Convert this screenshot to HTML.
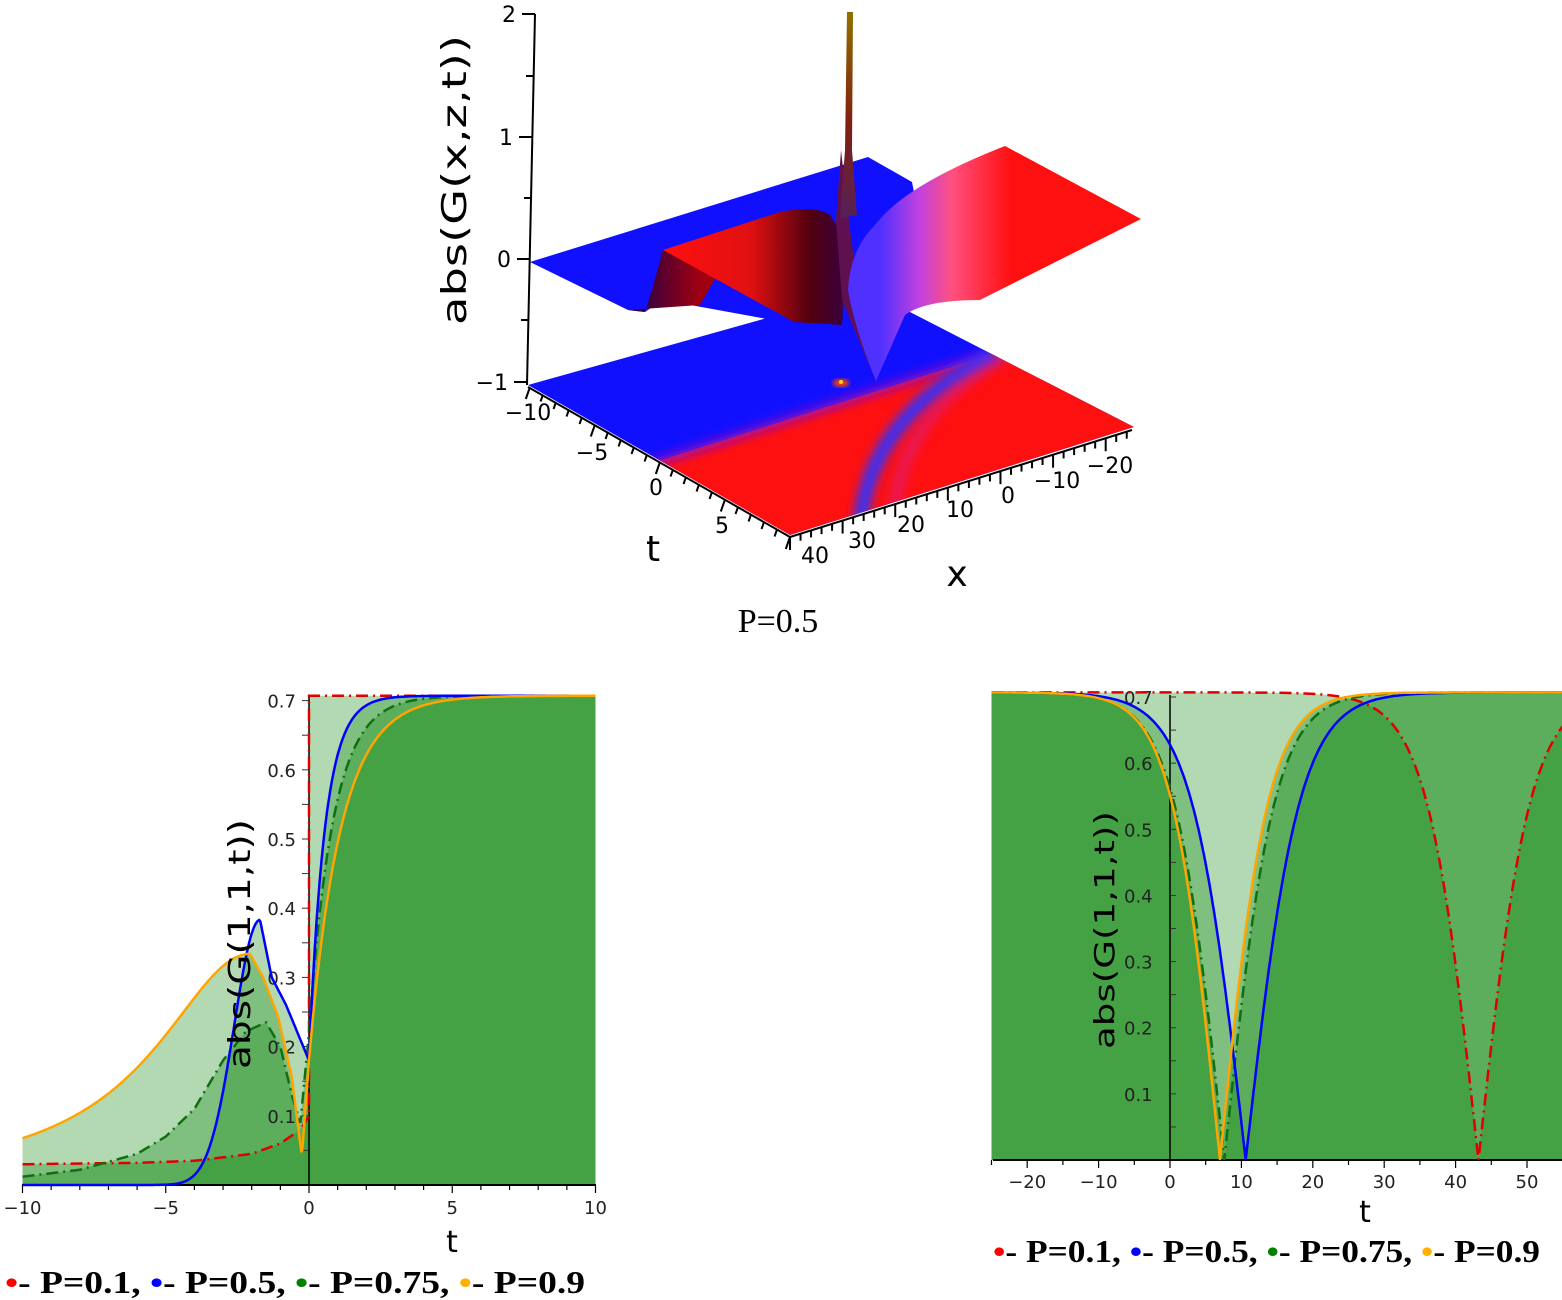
<!DOCTYPE html>
<html><head><meta charset="utf-8"><style>
html,body{margin:0;padding:0;background:#fff;}
svg{display:block;}
</style></head><body>
<svg id="s" width="1562" height="1300" viewBox="0 0 1562 1300" xmlns="http://www.w3.org/2000/svg">
<defs>
<linearGradient id="frontRed" x1="663" y1="0" x2="860" y2="0" gradientUnits="userSpaceOnUse">
<stop offset="0" stop-color="#ff1010"/><stop offset="0.45" stop-color="#e01010"/><stop offset="0.75" stop-color="#500010"/><stop offset="1" stop-color="#300050"/></linearGradient>
<linearGradient id="pink" x1="880" y1="0" x2="1010" y2="0" gradientUnits="userSpaceOnUse">
<stop offset="0" stop-color="#5030ff"/><stop offset="0.3" stop-color="#c040e0"/><stop offset="0.55" stop-color="#ff5080"/><stop offset="1" stop-color="#ff1010"/></linearGradient>
<linearGradient id="spk" x1="0" y1="12" x2="0" y2="230" gradientUnits="userSpaceOnUse">
<stop offset="0" stop-color="#907000"/><stop offset="0.5" stop-color="#802010"/><stop offset="1" stop-color="#502060"/></linearGradient>
<linearGradient id="wall" x1="640" y1="0" x2="700" y2="0" gradientUnits="userSpaceOnUse">
<stop offset="0" stop-color="#300040"/><stop offset="1" stop-color="#a00010"/></linearGradient>
<filter id="bl" x="-50%" y="-50%" width="200%" height="200%"><feGaussianBlur stdDeviation="5"/></filter>
<filter id="bl2"><feGaussianBlur stdDeviation="2"/></filter>
<clipPath id="baseClip"><polygon points="528,385 867,290 1134,427 790,535"/></clipPath>
</defs>

<!-- 3D plot -->
<polygon points="528,385 867,290 1134,427 790,535" fill="#1010ff"/>
<g clip-path="url(#baseClip)">
<polygon points="655,462 998,352 1134,427 790,535" fill="#ff1010"/>
<line x1="650" y1="464" x2="1000" y2="351" stroke="#9010c0" stroke-width="8" filter="url(#bl)"/>
<path d="M995,354 Q860,420 860,540" stroke="#3030ff" stroke-width="14" fill="none" filter="url(#bl)"/>
<path d="M1005,356 Q890,420 893,540" stroke="#d020a0" stroke-width="12" fill="none" filter="url(#bl)" opacity="0.5"/>
</g>
<ellipse cx="841" cy="383" rx="8" ry="4" fill="#ff4000" filter="url(#bl2)"/>
<circle cx="841" cy="382" r="2" fill="#ffe000"/>

<polygon points="530,262 868,157 912,182 935,300 800,325 663,300 645,312 628,310" fill="#1010ff"/>
<polygon points="628,310 645,312 652,290 663,250 720,270 700,305" fill="url(#wall)"/>
<path d="M663,250 L780,212 Q815,205 830,215 L838,228 Q845,290 842,325 L794,322 Z" fill="url(#frontRed)"/>
<path d="M841,150 L836,220 L842,300 L876,381 L860,300 L850,230 Z" fill="#601050"/>
<path d="M876,381 Q855,330 848,290 Q850,250 875,225 Q905,185 1005,146 L1141,219 L980,300 Q925,300 905,315 Z" fill="url(#pink)"/>
<polygon points="847,12 853,12 852,150 857,215 840,218 845,150" fill="url(#spk)"/>

<!-- z axis -->
<g stroke="#000" stroke-width="2" fill="none">
<line x1="535" y1="14" x2="527" y2="385"/>
<line x1="535" y1="14" x2="522" y2="14"/>
<line x1="532" y1="137" x2="519" y2="137"/>
<line x1="530" y1="259" x2="517" y2="259"/>
<line x1="527" y1="382" x2="514" y2="382"/>
<line x1="533" y1="76" x2="526" y2="76"/>
<line x1="531" y1="198" x2="524" y2="198"/>
<line x1="528" y1="320" x2="521" y2="320"/>
<line x1="528" y1="387" x2="790" y2="537"/>
<line x1="790" y1="537" x2="1132" y2="430"/>
</g>
<g id="ticks3d" stroke="#000" stroke-width="2"></g>
<g font-family="DejaVu Sans, Liberation Sans, sans-serif" font-size="22" fill="#000">
<text x="516" y="22" text-anchor="end">2</text>
<text x="513" y="145" text-anchor="end">1</text>
<text x="511" y="267" text-anchor="end">0</text>
<text x="508" y="390" text-anchor="end">−1</text>
<text x="528" y="420" text-anchor="middle">−10</text>
<text x="592" y="460" text-anchor="middle">−5</text>
<text x="656" y="495" text-anchor="middle">0</text>
<text x="722" y="533" text-anchor="middle">5</text>
<text x="815" y="563" text-anchor="middle">40</text>
<text x="862" y="548" text-anchor="middle">30</text>
<text x="911" y="532" text-anchor="middle">20</text>
<text x="960" y="517" text-anchor="middle">10</text>
<text x="1008" y="503" text-anchor="middle">0</text>
<text x="1057" y="488" text-anchor="middle">−10</text>
<text x="1110" y="473" text-anchor="middle">−20</text>
</g>
<g font-family="DejaVu Sans, Liberation Sans, sans-serif" font-size="36" fill="#000">
<text x="653" y="561" text-anchor="middle">t</text>
<text x="957" y="586" text-anchor="middle">x</text>
<text transform="translate(466,180) rotate(-90)" text-anchor="middle" font-size="34" textLength="290" lengthAdjust="spacingAndGlyphs">abs(G(x,z,t))</text>
</g>
<text x="778" y="632" text-anchor="middle" font-family="Liberation Serif, serif" font-size="34">P=0.5</text>

<!-- 2D plots -->
<g id="plots"></g>

<g font-family="Liberation Serif, serif" font-weight="bold" font-size="32">
<text x="5" y="1293" textLength="580" lengthAdjust="spacingAndGlyphs"><tspan fill="#ff0000">•</tspan><tspan fill="#000">- P=0.1, </tspan><tspan fill="#0000ff">•</tspan><tspan fill="#000">- P=0.5, </tspan><tspan fill="#008000">•</tspan><tspan fill="#000">- P=0.75, </tspan><tspan fill="#ffb000">•</tspan><tspan fill="#000">- P=0.9</tspan></text>
<text x="993" y="1262" textLength="547" lengthAdjust="spacingAndGlyphs"><tspan fill="#ff0000">•</tspan><tspan fill="#000">- P=0.1, </tspan><tspan fill="#0000ff">•</tspan><tspan fill="#000">- P=0.5, </tspan><tspan fill="#008000">•</tspan><tspan fill="#000">- P=0.75, </tspan><tspan fill="#ffb000">•</tspan><tspan fill="#000">- P=0.9</tspan></text>
</g>
</svg>
<script>
(function(){
var NS="http://www.w3.org/2000/svg";
function el(tag,attrs,parent,txt){var e=document.createElementNS(NS,tag);for(var k in attrs)e.setAttribute(k,attrs[k]);if(txt!==undefined)e.textContent=txt;parent.appendChild(e);return e;}
var tg=document.getElementById('ticks3d');
var A=[530,387],B=[790,537],C=[1132,430];
for(var t=-10;t<=10;t++){var f=(t+10)/20;var x=A[0]+(B[0]-A[0])*f,y=A[1]+(B[1]-A[1])*f;var L=(t%5==0)?12:7;el('line',{x1:x,y1:y,x2:x-L*0.35,y2:y+L},tg);}
for(var xv=40;xv>=-24;xv-=2){var f=(40-xv)/65;var x=B[0]+(C[0]-B[0])*f,y=B[1]+(C[1]-B[1])*f;var L=(xv%10==0)?13:7;el('line',{x1:x,y1:y,x2:x,y2:y+L},tg);}
var pg=document.getElementById('plots');
function interp(pts,t){if(t<=pts[0][0])return pts[0][1];for(var i=1;i<pts.length;i++){if(t<=pts[i][0]){var a=pts[i-1],b=pts[i];return a[1]+(b[1]-a[1])*(t-a[0])/(b[0]-a[0]);}}return pts[pts.length-1][1];}
var lx=function(t){return 309+t*28.65},ly=function(v){return 1185-v*692};
function orange(t){if(t<=-2.06)return 0.334/(1+Math.pow((t+2.06)/4,2));if(t<=0)return interp([[-2.06,.334],[-1.6,.3],[-1.08,.243],[-0.6,.156],[-0.25,.042],[0,.18]],t);return 0.707-0.527*Math.exp(-t/1.1);}
function blue(t){if(t<=-1.71)return 0.383*Math.exp(-Math.pow(t+1.71,2)/1.6);if(t<=0)return interp([[-1.71,.383],[-1.3,.3],[-0.8,.26],[-0.4,.22],[0,.18]],t);return 0.707-0.527*Math.exp(-t/0.55);}
function green(t){if(t<=0)return interp([[-10,.012],[-8,.022],[-6,.045],[-5,.07],[-4,.11],[-3,.18],[-2.2,.222],[-1.5,.235],[-1,.2],[-0.6,.13],[-0.3,.09],[0,.22]],t);return 0.707-0.487*Math.exp(-t/0.85);}
function red(t){if(t<0)return interp([[-10,.03],[-6,.032],[-4,.035],[-2,.045],[-1,.06],[-0.3,.08],[0,.1]],t);return 0.707;}
function mk(fn,t0,t1,n,X,Y){var d='';for(var i=0;i<=n;i++){var t=t0+(t1-t0)*i/n;d+=(i?'L':'M')+X(t).toFixed(1)+','+Y(fn(t)).toFixed(1);}return d;}
var FC='rgba(20,137,20,0.323)';
[orange,blue,green,red].forEach(function(fn){var d=mk(fn,-10,-0.0001,400,lx,ly);if(fn===red){d+='L'+lx(0)+','+ly(0.707)+'L'+lx(10)+','+ly(0.707);}else d+=mk(fn,0,10,300,lx,ly).replace('M','L');d+='L'+lx(10)+','+ly(0)+'L'+lx(-10)+','+ly(0)+'Z';el('path',{d:d,fill:FC},pg);});
el('line',{x1:22,y1:1185,x2:596,y2:1185,stroke:'#000','stroke-width':2},pg);
el('line',{x1:309,y1:695,x2:309,y2:1185,stroke:'#000','stroke-width':1.5},pg);
for(var t=-10;t<=10;t++){var L=(t%5==0)?8:5;el('line',{x1:lx(t),y1:1185,x2:lx(t),y2:1185+L,stroke:'#000','stroke-width':1.2},pg);}
for(var v=0.05;v<0.71;v+=0.05){el('line',{x1:309,y1:ly(v),x2:302,y2:ly(v),stroke:'#333','stroke-width':1},pg);}
var lg=el('g',{'font-family':'DejaVu Sans, Liberation Sans, sans-serif','font-size':'18',fill:'#222'},pg);
[0.1,0.2,0.3,0.4,0.5,0.6,0.7].forEach(function(v){el('text',{x:296,y:ly(v)+7,'text-anchor':'end'},lg,v.toFixed(1));});
[[-10,'−10'],[-5,'−5'],[0,'0'],[5,'5'],[10,'10']].forEach(function(a){el('text',{x:lx(a[0]),y:1214,'text-anchor':'middle'},lg,a[1]);});
var dd='12,5,2,5';
el('path',{d:mk(red,-10,-0.0001,200,lx,ly)+'L'+lx(0)+','+ly(0.707)+'L'+lx(10)+','+ly(0.707),fill:'none',stroke:'#e00000','stroke-width':2.5,'stroke-dasharray':dd},pg);
el('path',{d:mk(green,-10,10,600,lx,ly),fill:'none',stroke:'#107010','stroke-width':2.5,'stroke-dasharray':dd},pg);
el('path',{d:mk(blue,-10,10,600,lx,ly),fill:'none',stroke:'#0000ff','stroke-width':2.5},pg);
el('path',{d:mk(orange,-10,10,600,lx,ly),fill:'none',stroke:'#ffa500','stroke-width':2.5},pg);
el('text',{x:452,y:1252,'text-anchor':'middle','font-family':'DejaVu Sans, sans-serif','font-size':'30',fill:'#000'},pg,'t');
el('text',{transform:'translate(250,944) rotate(-90)','text-anchor':'middle','font-family':'DejaVu Sans, sans-serif','font-size':'30',fill:'#000',textLength:'250',lengthAdjust:'spacingAndGlyphs'},pg,'abs(G(1,1,t))');
var rx=function(t){return 1170+t*7.14},ry=function(v){return 1160-v*661.4};
function th(c,a){return function(t){return 0.707*Math.abs(Math.tanh((t-c)/a));};}
var rO=th(7,6.7),rG=th(7.6,7),rB=th(10.6,7.5),rR=th(43.2,7.2);
[rO,rG,rB,rR].forEach(function(fn){var d=mk(fn,-25,55,800,rx,ry)+'L'+rx(55)+','+ry(0)+'L'+rx(-25)+','+ry(0)+'Z';el('path',{d:d,fill:FC},pg);});
el('line',{x1:993,y1:1160,x2:1562,y2:1160,stroke:'#000','stroke-width':2},pg);
el('line',{x1:1170,y1:695,x2:1170,y2:1160,stroke:'#000','stroke-width':1.5},pg);
for(var t=-25;t<=55;t+=5){var L=(t%10==0)?8:5;el('line',{x1:rx(t),y1:1160,x2:rx(t),y2:1160+L,stroke:'#000','stroke-width':1.2},pg);}
for(var v=0.05;v<0.71;v+=0.05){el('line',{x1:1170,y1:ry(v),x2:1176,y2:ry(v),stroke:'#333','stroke-width':1},pg);}
var rg=el('g',{'font-family':'DejaVu Sans, Liberation Sans, sans-serif','font-size':'18',fill:'#222'},pg);
[0.1,0.2,0.3,0.4,0.5,0.6,0.7].forEach(function(v){el('text',{x:1124,y:ry(v)+7},rg,v.toFixed(1));});
[[-20,'−20'],[-10,'−10'],[0,'0'],[10,'10'],[20,'20'],[30,'30'],[40,'40'],[50,'50']].forEach(function(a){el('text',{x:rx(a[0]),y:1188,'text-anchor':'middle'},rg,a[1]);});
el('path',{d:mk(rR,-25,55,800,rx,ry),fill:'none',stroke:'#e00000','stroke-width':2.5,'stroke-dasharray':dd},pg);
el('path',{d:mk(rG,-25,55,800,rx,ry),fill:'none',stroke:'#107010','stroke-width':2.5,'stroke-dasharray':dd},pg);
el('path',{d:mk(rB,-25,55,800,rx,ry),fill:'none',stroke:'#0000ff','stroke-width':2.5},pg);
el('path',{d:mk(rO,-25,55,800,rx,ry),fill:'none',stroke:'#ffa500','stroke-width':2.5},pg);
el('text',{x:1365,y:1222,'text-anchor':'middle','font-family':'DejaVu Sans, sans-serif','font-size':'30',fill:'#000'},pg,'t');
el('text',{transform:'translate(1114,930) rotate(-90)','text-anchor':'middle','font-family':'DejaVu Sans, sans-serif','font-size':'28',fill:'#000',textLength:'238',lengthAdjust:'spacingAndGlyphs'},pg,'abs(G(1,1,t))');
})();
</script>
</body></html>
